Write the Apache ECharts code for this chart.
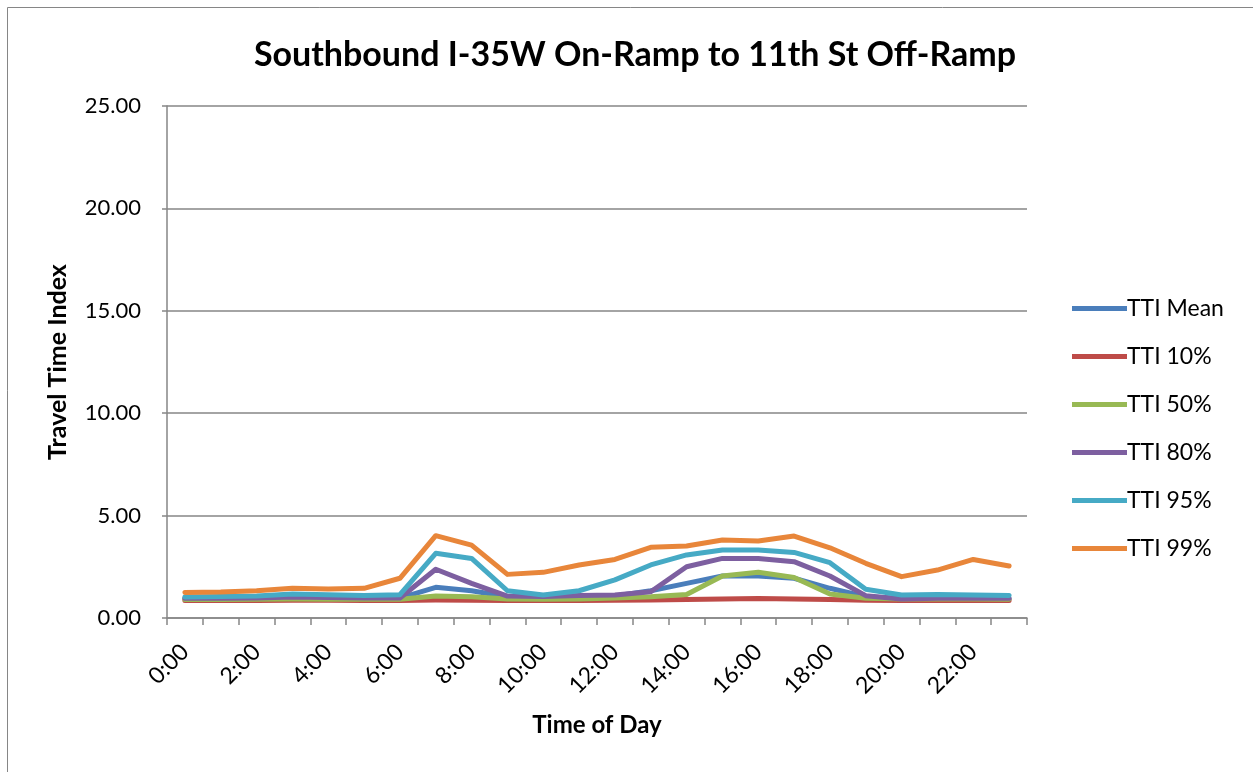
<!DOCTYPE html>
<html>
<head>
<meta charset="utf-8">
<script src="https://cdn.jsdelivr.net/npm/echarts@6/dist/echarts.min.js"></script>
<style>
  html, body { margin: 0; padding: 0; background: #fff; }
  #chart { width: 1253px; height: 772px; }
</style>
</head>
<body>
<div id="chart"></div>
<script>
var hours = ["0:00","1:00","2:00","3:00","4:00","5:00","6:00","7:00","8:00","9:00","10:00","11:00",
  "12:00","13:00","14:00","15:00","16:00","17:00","18:00","19:00","20:00","21:00","22:00","23:00"];

var ttiMean = [0.95,0.95,0.97,1.00,0.98,0.96,0.97,1.50,1.33,1.04,1.02,1.04,1.07,1.33,1.69,2.05,2.05,1.94,1.45,1.04,0.95,0.95,0.95,0.94];
var tti10   = [0.86,0.86,0.86,0.87,0.87,0.86,0.86,0.88,0.87,0.86,0.86,0.86,0.87,0.88,0.90,0.93,0.95,0.93,0.90,0.87,0.86,0.86,0.86,0.86];
var tti50   = [0.90,0.90,0.91,0.93,0.92,0.91,0.92,1.07,1.04,0.93,0.92,0.93,0.98,1.04,1.15,2.05,2.23,1.98,1.17,0.96,0.93,0.93,0.93,0.92];
var tti80   = [0.96,0.96,0.98,1.02,1.00,0.98,0.98,2.38,1.69,1.07,1.05,1.10,1.12,1.28,2.50,2.91,2.91,2.75,2.05,1.09,0.93,0.96,0.96,0.96];
var tti95   = [1.03,1.05,1.08,1.17,1.14,1.10,1.14,3.16,2.91,1.33,1.12,1.33,1.86,2.59,3.08,3.32,3.32,3.20,2.70,1.40,1.12,1.15,1.12,1.10];
var tti99   = [1.25,1.27,1.33,1.45,1.42,1.45,1.94,4.02,3.56,2.13,2.23,2.59,2.86,3.45,3.52,3.81,3.76,4.00,3.43,2.67,2.02,2.34,2.86,2.54];

var seriesNames = ["TTI Mean","TTI 10%","TTI 50%","TTI 80%","TTI 95%","TTI 99%"];
var seriesData = [ttiMean, tti10, tti50, tti80, tti95, tti99];
var colors = ["#4A7EBB","#BE4B48","#98B954","#7D5FA0","#46AAC5","#E8863A"];

var FONT = "Lato, 'Open Sans', sans-serif";
var axisGray = "#868686";

var chart = echarts.init(document.getElementById("chart"));

var series = [];
for (var i = 0; i < seriesNames.length; i++) {
  series.push({
    name: seriesNames[i],
    type: "line",
    data: seriesData[i],
    symbol: "none",
    lineStyle: { width: 5, color: colors[i], cap: "round", join: "round" },
    itemStyle: { color: colors[i] }
  });
}

chart.setOption({
  animation: false,
  backgroundColor: "#fff",
  title: {
    text: "Southbound I-35W On-Ramp to 11th St Off-Ramp",
    left: 630, top: 33, textAlign: "center",
    textStyle: { fontFamily: FONT, fontSize: 34, fontWeight: "bold", color: "#000" }
  },
  graphic: [{
    type: "rect",
    shape: { x: 7.5, y: 7.5, width: 1260, height: 780 },
    style: { fill: "none", stroke: axisGray, lineWidth: 1 },
    silent: true
  }],
  legend: {
    orient: "vertical",
    left: 1067, top: 292,
    icon: "rect",
    itemWidth: 55, itemHeight: 5,
    itemGap: 25,
    data: seriesNames,
    textStyle: { fontFamily: FONT, fontSize: 23, color: "#000", padding: [0, 0, 0, -5] }
  },
  grid: { left: 167, right: 226, top: 106, bottom: 154, containLabel: false },
  xAxis: {
    type: "category",
    data: hours,
    boundaryGap: true,
    name: "Time of Day",
    nameLocation: "middle",
    nameGap: 95,
    nameTextStyle: { fontFamily: FONT, fontSize: 24, fontWeight: "bold", color: "#000" },
    axisLine: { lineStyle: { color: axisGray, width: 1.5 } },
    axisTick: { show: true, alignWithLabel: false, interval: 0, length: 7, lineStyle: { color: axisGray, width: 1.5 } },
    axisLabel: {
      interval: 1, rotate: 45, margin: 30,
      fontFamily: FONT, fontSize: 23, color: "#000"
    },
    splitLine: { show: false }
  },
  yAxis: {
    type: "value",
    min: 0, max: 25, interval: 5,
    name: "Travel Time Index",
    nameLocation: "middle",
    nameGap: 97,
    nameTextStyle: { fontFamily: FONT, fontSize: 25, fontWeight: "bold", color: "#000" },
    axisLine: { show: true, lineStyle: { color: axisGray, width: 1.5 } },
    axisTick: { show: true, length: 5, lineStyle: { color: axisGray, width: 1.5 } },
    axisLabel: {
      margin: 26,
      fontFamily: FONT, fontSize: 22, color: "#000",
      formatter: function (v) { return v.toFixed(2); }
    },
    splitLine: { show: true, lineStyle: { color: axisGray, width: 1.5 } }
  },
  series: series
});
</script>
</body>
</html>
